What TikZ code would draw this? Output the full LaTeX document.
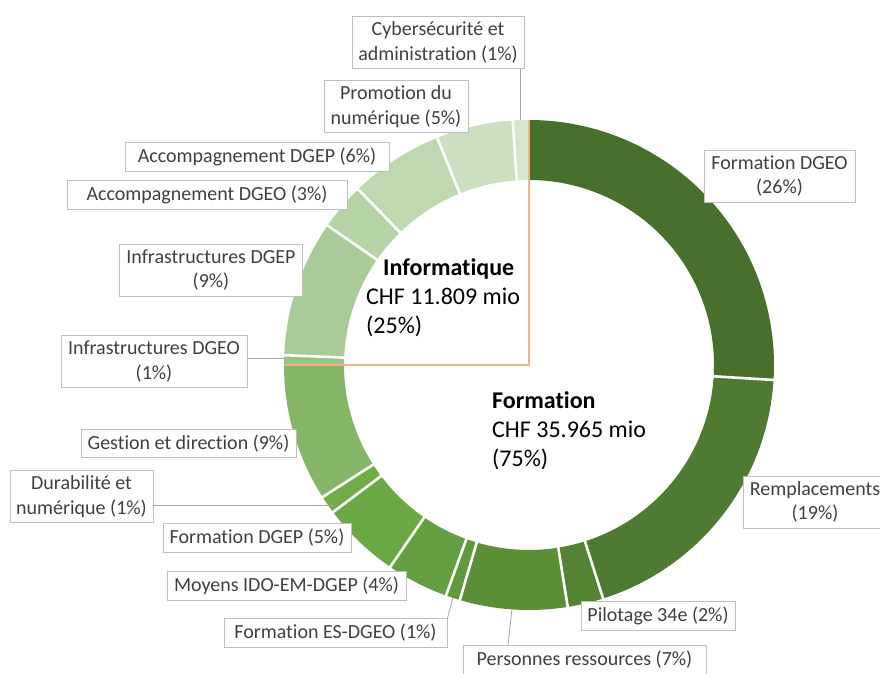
\documentclass[tikz,border=0pt]{standalone}
\usepackage{fontspec}
\setmainfont{Carlito}[Ligatures=NoCommon]
\usepackage{tikz}

\definecolor{fdgeo}{HTML}{47702C}
\definecolor{rempl}{HTML}{4F7A31}
\definecolor{pilot}{HTML}{548334}
\definecolor{persres}{HTML}{5A8F38}
\definecolor{fesdgeo}{HTML}{5F9A3B}
\definecolor{moyens}{HTML}{64A03F}
\definecolor{fdgep}{HTML}{6AA843}
\definecolor{durab}{HTML}{70AD47}
\definecolor{gestion}{HTML}{85B566}
\definecolor{infdgeo}{HTML}{98C283}
\definecolor{infdgep}{HTML}{A9CB97}
\definecolor{accdgeo}{HTML}{B5D3A5}
\definecolor{accdgep}{HTML}{BED8AF}
\definecolor{promo}{HTML}{CBE0C0}
\definecolor{cyber}{HTML}{D6E6CD}
\definecolor{boxgray}{HTML}{BFBFBF}
\definecolor{textgray}{HTML}{404040}
\definecolor{leadgray}{HTML}{A6A6A6}
\definecolor{orangeline}{HTML}{F4B183}

\tikzset{
lbl/.style={draw=boxgray, line width=0.8pt, fill=white, text=textgray, font=\fontsize{20}{24.5}\selectfont, align=center, inner xsep=0pt, inner ysep=5.5pt}, % the data label boxes
leader/.style={draw=leadgray, line width=0.8pt}, % thin lines from a box to its slice
ringsep/.style={draw=white, line width=2.6pt}, % white gaps between the slices
centre/.style={text=black, font=\fontsize{24}{29}\selectfont, align=left, inner sep=0pt, anchor=base west}, % the two totals in the hole (base = last line)
}

\def\rout{245}
\def\rin{185}
% one slice of the ring, from angle #1 to angle #2
\newcommand{\ringpart}[3]{\fill[#3] (#1:\rout) arc[start angle=#1, end angle=#2, radius=\rout] -- (#2:\rin) arc[start angle=#2, end angle=#1, radius=\rin] -- cycle;}

\begin{document}
\begin{tikzpicture}[x=1pt, y=1pt]
\clip (0,0) rectangle (880,673);
\fill[white] (0,0) rectangle (880,673);

\begin{scope}[shift={(529,308)}]
        % Formation
        \ringpart{-3.5}{90}{fdgeo}
        \ringpart{-72.4}{-3.5}{rempl}
        \ringpart{-80.9}{-72.4}{pilot}
        \ringpart{-106.4}{-80.9}{persres}
        \ringpart{-109.8}{-106.4}{fesdgeo}
        \ringpart{-124.5}{-109.8}{moyens}
        \ringpart{-143.1}{-124.5}{fdgep}
        \ringpart{-147.4}{-143.1}{durab}
        \ringpart{-180}{-147.4}{gestion}
        % Informatique
        \ringpart{177.7}{180}{infdgeo}
        \ringpart{145.3}{177.7}{infdgep}
        \ringpart{134.2}{145.3}{accdgeo}
        \ringpart{112}{134.2}{accdgep}
        \ringpart{93.8}{112}{promo}
        \ringpart{90}{93.8}{cyber}

        \foreach \a in {-3.5,-72.4,-80.9,-106.4,-109.8,-124.5,-143.1,-147.4,177.7,145.3,134.2,112,93.8}
          \draw[ringsep] (\a:\rin-2) -- (\a:\rout+2);

        \draw[orangeline, line width=1.4pt] (90:\rout) -- (0,0) -- (180:\rout);

        \coordinate (cyberpt) at (92.1:\rout);
        \coordinate (infdgeopt) at (178.5:\rout);
        \coordinate (fesdgeopt) at (-108.1:\rout);
        \coordinate (perspt) at (-94:\rout);
\end{scope}
\coordinate (durabpt) at (335,168);
\coordinate (persfoot) at (508,28);

\node[centre] (info) at (366,340) {\hspace*{17pt}\textbf{Informatique}\\CHF 11.809 mio\\(25\%)};
\node[centre] (form) at (492,207) {\textbf{Formation}\\CHF 35.965 mio\\(75\%)};

\node[lbl, minimum width=172pt] (cyber) at (438,630.5) {Cybersécurité et\\administration (1\%)};
\node[lbl, minimum width=144pt] (promo) at (396,566.5) {Promotion du\\numérique (5\%)};
\node[lbl, minimum width=264pt] (accdgep) at (257,516) {Accompagnement DGEP (6\%)};
\node[lbl, minimum width=280pt] (accdgeo) at (207,478) {Accompagnement DGEO (3\%)};
\node[lbl, minimum width=183pt] (infdgep) at (211,403) {Infrastructures DGEP\\(9\%)};
\node[lbl, minimum width=186pt] (infdgeo) at (154,311.5) {Infrastructures DGEO\\(1\%)};
\node[lbl, minimum width=215pt] (gestion) at (188.5,229.5) {Gestion et direction (9\%)};
\node[lbl, minimum width=143pt] (durab) at (81.5,176.5) {Durabilité et\\numérique (1\%)};
\node[lbl, minimum width=188pt] (fdgep) at (257,135) {Formation DGEP (5\%)};
\node[lbl, minimum width=239pt] (moyens) at (286.5,87) {Moyens IDO-EM-DGEP (4\%)};
\node[lbl, minimum width=223pt] (fesdgeo) at (335.5,40) {Formation ES-DGEO (1\%)};
\node[lbl, minimum width=243pt] (persres) at (584.5,13) {Personnes ressources (7\%)};
\node[lbl, minimum width=154pt] (pilot) at (658,57) {Pilotage 34e (2\%)};
\node[lbl, minimum width=144pt] (rempl) at (815,171) {Remplacements\\(19\%)};
\node[lbl, minimum width=151pt] (fdgeo) at (779.5,497) {Formation DGEO\\(26\%)};

\draw[leader] (cyberpt) -- (cyberpt |- cyber.south);
\draw[leader] (infdgeo.east |- infdgeopt) -- (infdgeopt);
\draw[leader] (durab.east |- durabpt) -- (durabpt);
\draw[leader] (fesdgeo.north east) -- (fesdgeopt);
\draw[leader] (persfoot) -- (perspt);
\end{tikzpicture}
\end{document}
